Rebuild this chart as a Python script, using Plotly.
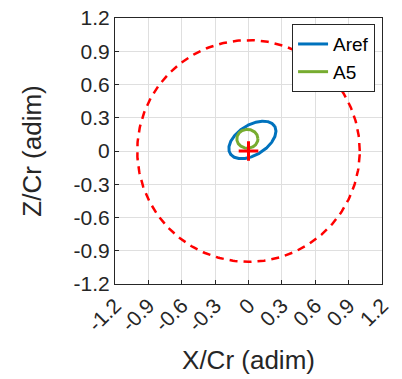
import numpy as np
import plotly.graph_objects as go

# Ellipse parameters: center x, center z, semi-axis a, semi-axis b, tilt (deg)
series_names = ["Aref", "A5"]
series_colors = ["#0072BD", "#77AC30"]
centers_x = [0.035, -0.01]
centers_z = [0.10, 0.11]
semi_a = [0.235, 0.095]
semi_b = [0.135, 0.085]
tilt_deg = [32, 0]

ref_radius = 1.0
origin_x = [0.0]
origin_z = [0.0]

tick_vals = [-1.2, -0.9, -0.6, -0.3, 0, 0.3, 0.6, 0.9, 1.2]
tick_text = ["-1.2", "-0.9", "-0.6", "-0.3", "0", "0.3", "0.6", "0.9", "1.2"]

FONT = "Liberation Sans, Arial"
t = np.linspace(0, 2 * np.pi, 361)
fig = go.Figure()

# reference circle
fig.add_trace(go.Scatter(x=ref_radius * np.cos(t), y=ref_radius * np.sin(t), mode="lines",
                         line=dict(color="#FF0000", width=2.5, dash="8px,6px"),
                         showlegend=False, hoverinfo="skip"))

for name, col, cx, cz, a, b, th in zip(series_names, series_colors, centers_x, centers_z, semi_a, semi_b, tilt_deg):
    r = np.deg2rad(th)
    x = cx + a * np.cos(t) * np.cos(r) - b * np.sin(t) * np.sin(r)
    z = cz + a * np.cos(t) * np.sin(r) + b * np.sin(t) * np.cos(r)
    fig.add_trace(go.Scatter(x=x, y=z, mode="lines", name=name, line=dict(color=col, width=3)))

fig.add_trace(go.Scatter(x=origin_x, y=origin_z, mode="markers",
                         marker=dict(symbol="cross-thin", size=14, line=dict(color="#FF0000", width=3)),
                         showlegend=False))

axis_common = dict(range=[-1.2, 1.2], tickvals=tick_vals, ticktext=tick_text,
                   showgrid=True, gridcolor="#DFDFDF", gridwidth=1, zeroline=False,
                   showline=True, linecolor="#262626", linewidth=1, mirror=True,
                   ticks="inside", ticklen=4, tickcolor="#262626", automargin=False,
                   ticklabeloverflow="allow",
                   tickfont=dict(family=FONT, size=21, color="#262626"))

fig.update_xaxes(**axis_common, tickangle=-45,
                 title=dict(text="X/Cr (adim)", font=dict(family=FONT, size=26, color="#262626"), standoff=16))
fig.update_yaxes(**axis_common,
                 title=dict(text="Z/Cr (adim)", font=dict(family=FONT, size=26, color="#262626"), standoff=24))

fig.update_layout(width=402, height=379, margin=dict(l=115, r=20, t=18, b=95),
                  plot_bgcolor="white", paper_bgcolor="white",
                  legend=dict(x=0.974, y=0.977, xanchor="right", yanchor="top",
                              bgcolor="white", bordercolor="#262626", borderwidth=1,
                              font=dict(family=FONT, size=19, color="#000000"),
                              itemwidth=30, tracegroupgap=0))

fig.write_html("out.html", config={"displayModeBar": False},
               post_script="document.body.style.margin='0';")
